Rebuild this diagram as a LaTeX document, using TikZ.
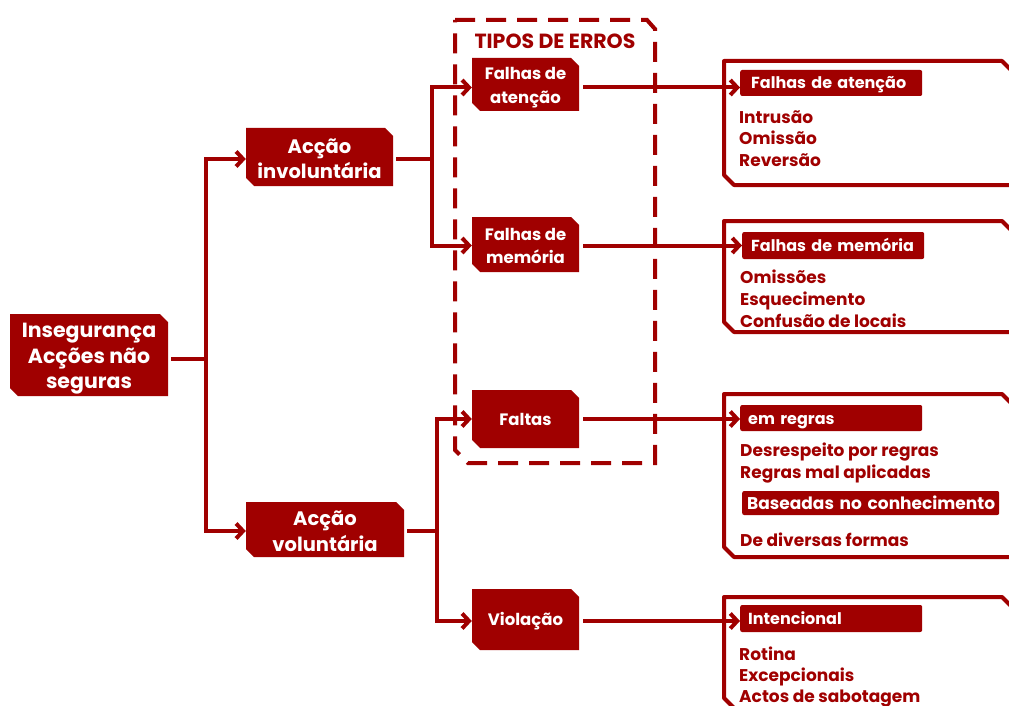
\documentclass[tikz,border=0pt]{standalone}
\usepackage{fontspec}
\setmainfont{Poppins}
\usetikzlibrary{arrows.meta}
\definecolor{dr}{RGB}{160,0,0}
\newcommand\cbox[8]{%
  \fill[boxfill] (#2-#4/2,#3-#5/2) -- (#2+#4/2-8,#3-#5/2) -- (#2+#4/2,#3-#5/2+8)
    -- (#2+#4/2,#3+#5/2) -- (#2-#4/2+8,#3+#5/2) -- (#2-#4/2,#3+#5/2-8) -- cycle;
  \node[boxtext, minimum width=#4pt, minimum height=#5pt, font=#7, yshift=#8pt] (#1) at (#2,#3) {#6};}
\newcommand\panelshape[2]{%
  \draw[panel] (1011,#1+9) -- (1002,#1) -- (724,#1) -- (724,#2-10) -- (734,#2) -- (1011,#2);}
\newcommand\pad[1]{\hspace*{#1pt}}
\begin{document}
\begin{tikzpicture}[x=1pt,y=-1pt,
  boxfill/.style={fill=dr},
  boxtext/.style={inner sep=0pt, text=white, align=center},
  ln/.style={draw=dr, line width=4pt},
  arr/.style={draw=dr, line width=4pt, -{Straight Barb[length=7pt,width=15pt]}},
  panel/.style={draw=dr, line width=4pt, line join=round},
  dashbox/.style={draw=dr, line width=4pt, dash pattern=on 20pt off 11pt},
  head/.style={fill=dr, rounded corners=2pt, text=white, inner sep=0pt, text height=12pt, text depth=0pt, font=\fontsize{16}{20}\selectfont\bfseries, anchor=west, align=left},
  item/.style={text=dr, inner sep=0pt, anchor=west, text height=12pt, text depth=0pt, font=\fontsize{17}{20}\selectfont\bfseries},
  title/.style={text=dr, inner sep=0pt, text height=13pt, text depth=0pt, font=\fontsize{20.5}{24}\selectfont\bfseries}
]
\path[fill=white, use as bounding box] (0,0) rectangle (1009,706);

% dashed group box
\draw[dashbox] (455,20) -- (647,20) -- (655,29) -- (655,463) -- (468,463) -- (455,450) -- cycle;
\node[title] (tt) at (555,42) {TIPOS DE ERROS};

% main boxes
\cbox{ins}{89}{355}{158}{82}{Insegurança\\Acções não\\seguras}{\fontsize{20.5}{25.5}\selectfont\bfseries}{-4}
\cbox{ai}{319.5}{157}{147}{58}{Acção\\involuntária}{\fontsize{19.5}{25}\selectfont\bfseries}{-2}
\cbox{av}{325}{529.5}{158}{55}{Acção\\voluntária}{\fontsize{19.5}{26}\selectfont\bfseries}{-1.5}
\cbox{fa}{525.5}{84.5}{107}{53}{Falhas de\\atenção}{\fontsize{16.5}{24}\selectfont\bfseries}{-3}
\cbox{fm}{525.5}{244.5}{107}{55}{Falhas de\\memória}{\fontsize{16.5}{23}\selectfont\bfseries}{-1}
\cbox{fl}{525.5}{419}{107}{58}{Faltas}{\fontsize{16.5}{23}\selectfont\bfseries}{0}
\cbox{vi}{525.5}{619.5}{107}{61}{Violação}{\fontsize{16.5}{23}\selectfont\bfseries}{-1.5}

% connectors
\coordinate (x1) at (206,0);
\coordinate (x2) at (432,0);
\coordinate (x3) at (437,0);
\coordinate (j1) at (ins.east -| x1);
\coordinate (j2) at (ai.east -| x2);
\coordinate (j3) at (av.east -| x3);
\draw[ln, shorten <=3pt] (ins.east) -- (j1);
\draw[arr] (j1) |- (ai.west);
\draw[arr] (j1) |- (av.west);
\draw[ln, shorten <=3pt] (ai.east) -- (j2);
\draw[arr] (j2) |- (fa.west);
\draw[arr] (j2) |- (fm.west);
\draw[ln, shorten <=3pt] (av.east) -- (j3);
\draw[arr] (j3) |- (fl.west);
\draw[arr] (j3) |- (vi.west);

% panels
\panelshape{61}{185}
\panelshape{221}{332}
\panelshape{394}{557}
\panelshape{597}{708}

\node[head, minimum height=26pt, text width=182pt] (h1) at (740,83) {\pad{11}Falhas de atenção};
\node[item] (i11) at (739,118) {Intrusão};
\node[item] (i12) at (739,139) {Omissão};
\node[item] (i13) at (739,160) {Reversão};

\node[head, minimum height=27pt, text width=182pt] (h2) at (742,245.5) {\pad{9}Falhas de memória};
\node[item] (i21) at (740,277) {Omissões};
\node[item] (i22) at (740,299) {Esquecimento};
\node[item] (i23) at (740,321) {Confusão de locais};

\node[head, minimum height=26pt, text width=182pt] (h3) at (740,418) {\pad{8}em regras};
\node[item] (i31) at (740,450) {Desrespeito por regras};
\node[item] (i32) at (740,472) {Regras mal aplicadas};
\node[head, minimum height=24pt, text width=257pt, font=\fontsize{17}{20}\selectfont\bfseries] (h3b) at (742,503) {\pad{5}Baseadas no conhecimento};
\node[item] (i33) at (740,540) {De diversas formas};

\node[head, minimum height=27pt, text width=182pt] (h4) at (740,618.5) {\pad{8}Intencional};
\node[item] (i41) at (739,654) {Rotina};
\node[item] (i42) at (739,675) {Excepcionais};
\node[item] (i43) at (739,696) {Actos de sabotagem};

\draw[arr, shorten <=4pt] (fa.east) -- (fa.east -| h1.west);
\draw[arr, shorten <=4pt] (fm.east) -- (fm.east -| h2.west);
\draw[arr, shorten <=4pt] (fl.east) -- (fl.east -| h3.west);
\draw[arr, shorten <=4pt] (vi.east) -- (vi.east -| h4.west);
\end{tikzpicture}
\end{document}
